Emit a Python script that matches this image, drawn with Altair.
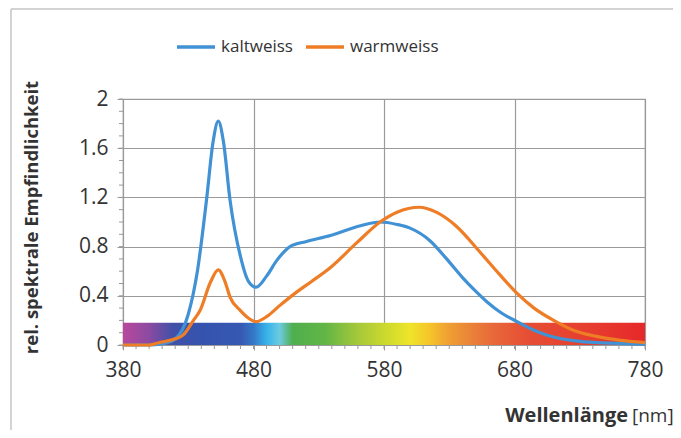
import altair as alt
import pandas as pd

# ---- data ----
kalt_nm = [380, 400, 410, 420, 430, 437, 444, 449, 453, 457, 462, 470, 476, 482, 490, 498,
           508, 520, 539, 562, 577, 590, 600, 615, 628, 640, 650, 659, 670, 682, 695, 705,
           730, 755, 780]
kalt_val = [0.0, 0.0, 0.01, 0.05, 0.25, 0.6, 1.18, 1.65, 1.82, 1.65, 1.18, 0.72, 0.52, 0.47,
            0.56, 0.69, 0.80, 0.84, 0.89, 0.97, 1.0, 0.98, 0.95, 0.85, 0.70, 0.55, 0.44, 0.35,
            0.26, 0.19, 0.12, 0.08, 0.03, 0.015, 0.005]

warm_nm = [380, 400, 408, 420, 426, 434, 439, 447, 453, 458, 462, 470, 476, 482, 490, 500,
           513, 525, 539, 559, 577, 590, 607, 620, 635, 654, 668, 682, 695, 710, 725, 743,
           760, 780]
warm_val = [0.0, 0.0, 0.02, 0.05, 0.08, 0.2, 0.28, 0.51, 0.61, 0.52, 0.39, 0.28, 0.22, 0.19,
            0.23, 0.32, 0.43, 0.52, 0.63, 0.83, 1.0, 1.08, 1.12, 1.08, 0.97, 0.75, 0.58, 0.42,
            0.30, 0.20, 0.12, 0.07, 0.04, 0.02]

series_names = ["kaltweiss", "warmweiss"]
series_colors = ["#4191d5", "#ee7d26"]

x_ticks = [380, 480, 580, 680, 780]
y_ticks = [0, 0.4, 0.8, 1.2, 1.6, 2]
x_minor = list(range(380, 781, 10))
y_minor = [round(i * 0.1, 1) for i in range(0, 21)]

# spectrum band (0 .. 0.18) colour stops by wavelength
spec_nm = [380, 400, 418, 440, 470, 480, 490, 500, 510, 535, 560, 585, 600, 615, 628, 645,
           665, 690, 740, 780]
spec_col = ["#b8489c", "#8c4aa2", "#4150a8", "#3553ae", "#3658b2", "#3477c8", "#36b2ea",
            "#6ccbe0", "#4fae4f", "#62b645", "#a6c83a", "#d3dc2c", "#efe42a", "#f5c52a",
            "#f0a232", "#ea8538", "#e8663a", "#e64e34", "#e63c2e", "#e6282a"]
spec_top = 0.18

# ---- build tables ----
rows = [{"nm": n, "val": v, "series": "kaltweiss"} for n, v in zip(kalt_nm, kalt_val)]
rows += [{"nm": n, "val": v, "series": "warmweiss"} for n, v in zip(warm_nm, warm_val)]
df = pd.DataFrame(rows)

W, H = 522, 246
xs = alt.Scale(domain=[380, 780], nice=False)
ys = alt.Scale(domain=[0, 2], nice=False)

stops = [alt.GradientStop(color=c, offset=(n - 380) / 400) for n, c in zip(spec_nm, spec_col)]
grad = alt.LinearGradient(gradient="linear", stops=stops, x1=0, x2=1, y1=0, y2=0)

spec_df = pd.DataFrame([{"a": 380, "b": 780, "y0": 0, "y1": spec_top}])
spectrum = alt.Chart(spec_df).mark_rect(color=grad).encode(
    x=alt.X("a:Q", scale=xs,
            axis=alt.Axis(values=x_ticks, title=None, grid=True, tickSize=5, labelPadding=9,
                          labelFlush=False)),
    x2="b:Q",
    y=alt.Y("y0:Q", scale=ys,
            axis=alt.Axis(values=y_ticks, title="rel. spektrale Empfindlichkeit", format="~g",
                          grid=True, tickSize=6, labelPadding=9,
                          titleX=-92, titleY=H / 2 - 5, titleAngle=270,
                          titleAlign="center", titleBaseline="middle")),
    y2="y1:Q",
)

lines = alt.Chart(df).mark_line(strokeWidth=3.2, interpolate="monotone").encode(
    x=alt.X("nm:Q", scale=xs),
    y=alt.Y("val:Q", scale=ys),
    color=alt.Color("series:N",
                    scale=alt.Scale(domain=series_names, range=series_colors),
                    legend=alt.Legend(title=None, orient="none", legendX=52, legendY=-73,
                                      direction="horizontal", symbolType="stroke",
                                      symbolSize=1444, symbolStrokeWidth=3.5,
                                      labelFontSize=17, labelOffset=4, columnPadding=6,
                                      labelColor="#333333", padding=0)),
)

xminor = alt.Chart(pd.DataFrame({"t": x_minor})).mark_rule(color="#999999", strokeWidth=1).encode(
    x=alt.X("t:Q", scale=xs), y=alt.value(H), y2=alt.value(H + 4))
yminor = alt.Chart(pd.DataFrame({"t": y_minor})).mark_rule(color="#999999", strokeWidth=1).encode(
    y=alt.Y("t:Q", scale=ys), x=alt.value(-4), x2=alt.value(0))

one = pd.DataFrame({"k": [0]})
title_bold = alt.Chart(one).mark_text(text="Wellenlänge", font="Open Sans", fontWeight="bold",
                                      fontSize=20, align="right", baseline="alphabetic",
                                      color="#333333").encode(
    x=alt.value(505), y=alt.value(323))
title_unit = alt.Chart(one).mark_text(text="[nm]", font="Open Sans", fontSize=19,
                                      align="left", baseline="alphabetic",
                                      color="#333333").encode(
    x=alt.value(509), y=alt.value(323))

border_left = alt.Chart(one).mark_rule(color="#c4c4c4", strokeWidth=1.5).encode(
    x=alt.value(-112), y=alt.value(-90), y2=alt.value(340))
border_top = alt.Chart(one).mark_rule(color="#c4c4c4", strokeWidth=1.5).encode(
    x=alt.value(-112), x2=alt.value(560), y=alt.value(-90))

chart = alt.layer(spectrum, xminor, yminor, lines, title_bold, title_unit,
                  border_left, border_top).properties(
    width=W, height=H,
    autosize=alt.AutoSizeParams(type="none"),
    padding={"left": 115, "top": 91, "right": 28, "bottom": 85},
    background="white",
).configure_axis(
    labelFont="Open Sans", labelFontSize=21, labelColor="#333333",
    titleFont="Open Sans", titleFontSize=18.5, titleFontWeight="bold", titleColor="#333333",
    gridColor="#9a9a9a", gridWidth=1.2, domainColor="#9a9a9a", tickColor="#9a9a9a",
).configure_legend(
    labelFont="Open Sans",
).configure_view(stroke="#9a9a9a", strokeWidth=1.2)

chart.save("out.html", embed_options={"renderer": "svg", "actions": False})
